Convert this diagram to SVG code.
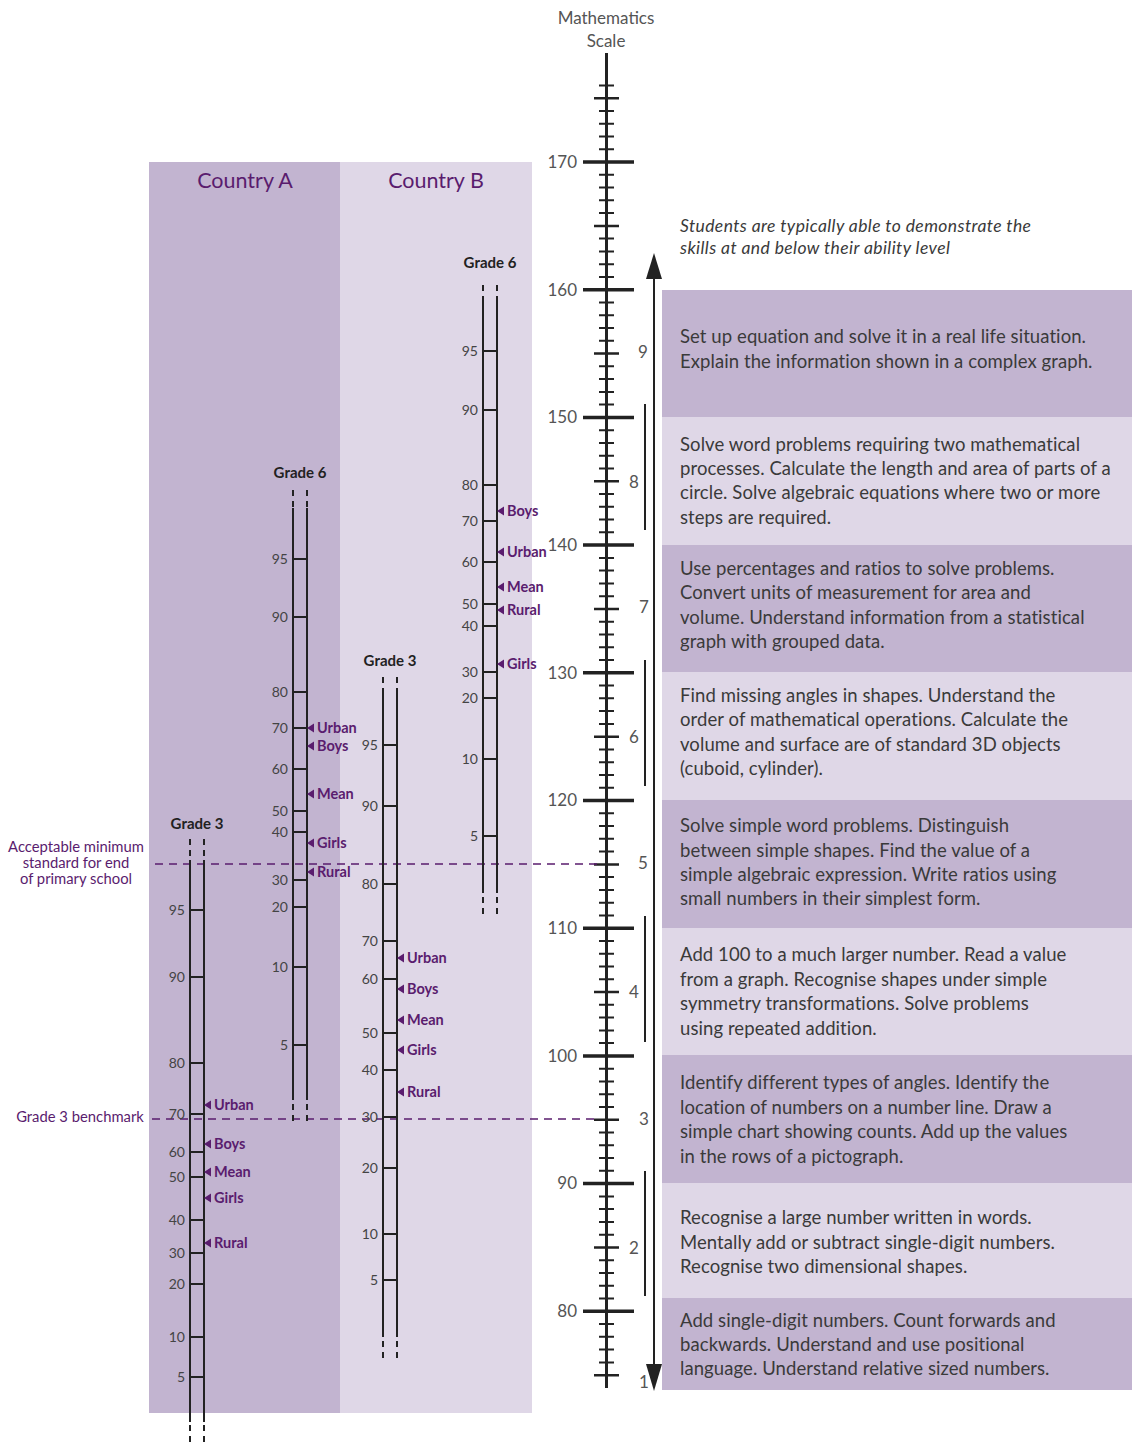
<svg xmlns="http://www.w3.org/2000/svg" width="1132" height="1445" viewBox="0 0 1132 1445">
<style>
.dark{fill:#c2b4d0}
.light{fill:#dfd7e7}
.title{font-family:Lato,"Liberation Sans",sans-serif;font-size:21.5px;fill:#5a1c6e;text-anchor:middle}
.lvl{font-family:Lato,"Liberation Sans",sans-serif;font-size:18.5px;letter-spacing:0.08px;fill:#3a3a3a}
.ital{font-family:Lato,"Liberation Sans",sans-serif;font-size:17.5px;letter-spacing:0.4px;font-style:italic;fill:#3a3a3a}
.num{font-family:Lato,"Liberation Sans",sans-serif;font-size:17px;fill:#555;text-anchor:end}
.lnum{font-family:Lato,"Liberation Sans",sans-serif;font-size:17px;fill:#555;text-anchor:middle}
.tk{font-family:Lato,"Liberation Sans",sans-serif;font-size:14px;fill:#444;text-anchor:end}
.gl{font-family:Lato,"Liberation Sans",sans-serif;font-size:15px;font-weight:bold;fill:#222;text-anchor:middle}
.mk{font-family:Lato,"Liberation Sans",sans-serif;font-size:14.5px;font-weight:bold;fill:#5a1c6e}
.side{font-family:Lato,"Liberation Sans",sans-serif;font-size:14.8px;fill:#5a1c6e;text-anchor:middle}
.bar{stroke:#222;stroke-width:2;fill:none}
.dash{stroke:#222;stroke-width:2;fill:none;stroke-dasharray:6 5}
.tri{fill:#5a1c6e}
.bench{stroke:#5a1c6e;stroke-width:1.6;stroke-dasharray:8 6;fill:none}
.ax{stroke:#222;fill:none}
</style>

<g id="countryA">
<rect class="dark" x="149" y="162" width="191" height="1251"/>
<text class="title" x="245" y="188">Country A</text>
</g>
<g id="countryB">
<rect class="light" x="340" y="162" width="192" height="1251"/>
<text class="title" x="436" y="188">Country B</text>
</g>

<g id="levels">
<rect class="dark" x="662" y="290" width="470" height="127"/>
<rect class="light" x="662" y="417" width="470" height="128"/>
<rect class="dark" x="662" y="545" width="470" height="127"/>
<rect class="light" x="662" y="672" width="470" height="128"/>
<rect class="dark" x="662" y="800" width="470" height="128"/>
<rect class="light" x="662" y="928" width="470" height="127"/>
<rect class="dark" x="662" y="1055" width="470" height="128"/>
<rect class="light" x="662" y="1183" width="470" height="115"/>
<rect class="dark" x="662" y="1298" width="470" height="92"/>
<g class="lvl">
<text x="680" y="343">Set up equation and solve it in a real life situation.</text>
<text x="680" y="368">Explain the information shown in a complex graph.</text>
<text x="680" y="451">Solve word problems requiring two mathematical</text>
<text x="680" y="475">processes. Calculate the length and area of parts of a</text>
<text x="680" y="499">circle. Solve algebraic equations where two or more</text>
<text x="680" y="524">steps are required.</text>
<text x="680" y="575">Use percentages and ratios to solve problems.</text>
<text x="680" y="599">Convert units of measurement for area and</text>
<text x="680" y="624">volume. Understand information from a statistical</text>
<text x="680" y="648">graph with grouped data.</text>
<text x="680" y="702">Find missing angles in shapes. Understand the</text>
<text x="680" y="726">order of mathematical operations. Calculate the</text>
<text x="680" y="751">volume and surface are of standard 3D objects</text>
<text x="680" y="775">(cuboid, cylinder).</text>
<text x="680" y="832">Solve simple word problems. Distinguish</text>
<text x="680" y="857">between simple shapes. Find the value of a</text>
<text x="680" y="881">simple algebraic expression. Write ratios using</text>
<text x="680" y="905">small numbers in their simplest form.</text>
<text x="680" y="961">Add 100 to a much larger number. Read a value</text>
<text x="680" y="986">from a graph. Recognise shapes under simple</text>
<text x="680" y="1010">symmetry transformations. Solve problems</text>
<text x="680" y="1035">using repeated addition.</text>
<text x="680" y="1089">Identify different types of angles. Identify the</text>
<text x="680" y="1114">location of numbers on a number line. Draw a</text>
<text x="680" y="1138">simple chart showing counts. Add up the values</text>
<text x="680" y="1163">in the rows of a pictograph.</text>
<text x="680" y="1224">Recognise a large number written in words.</text>
<text x="680" y="1249">Mentally add or subtract single-digit numbers.</text>
<text x="680" y="1273">Recognise two dimensional shapes.</text>
<text x="680" y="1327">Add single-digit numbers. Count forwards and</text>
<text x="680" y="1351">backwards. Understand and use positional</text>
<text x="680" y="1375">language. Understand relative sized numbers.</text>
</g>
<text x="680" y="232" class="ital">Students are typically able to demonstrate the</text>
<text x="680" y="254" class="ital">skills at and below their ability level</text>
<g class="lnum">
<text x="643" y="358">9</text>
<text x="634" y="488">8</text>
<text x="644" y="613">7</text>
<text x="634" y="743">6</text>
<text x="643" y="869">5</text>
<text x="634" y="998">4</text>
<text x="644" y="1125">3</text>
<text x="634" y="1254">2</text>
<text x="644" y="1388">1</text>
</g>
</g>

<g id="scale">
<text class="lnum" x="606" y="24">Mathematics</text>
<text class="lnum" x="606" y="47">Scale</text>
<line class="ax" x1="606.5" y1="53" x2="606.5" y2="1388" stroke-width="3"/>
<path class="ax" stroke-width="2" d="M599 85.4h15M599 110.9h15M599 123.7h15M599 136.5h15M599 149.2h15M599 174.8h15M599 187.5h15M599 200.3h15M599 213.1h15M599 238.6h15M599 251.4h15M599 264.2h15M599 276.9h15M599 302.5h15M599 315.2h15M599 328h15M599 340.8h15M599 366.3h15M599 379.1h15M599 391.9h15M599 404.6h15M599 430.2h15M599 442.9h15M599 455.7h15M599 468.5h15M599 494h15M599 506.8h15M599 519.6h15M599 532.3h15M599 557.9h15M599 570.6h15M599 583.4h15M599 596.2h15M599 621.7h15M599 634.5h15M599 647.3h15M599 660h15M599 685.6h15M599 698.3h15M599 711.1h15M599 723.9h15M599 749.4h15M599 762.2h15M599 775h15M599 787.7h15M599 813.3h15M599 826h15M599 838.8h15M599 851.6h15M599 877.1h15M599 889.9h15M599 902.7h15M599 915.4h15M599 941h15M599 953.7h15M599 966.5h15M599 979.3h15M599 1004.8h15M599 1017.6h15M599 1030.4h15M599 1043.1h15M599 1068.7h15M599 1081.4h15M599 1094.2h15M599 1107h15M599 1132.5h15M599 1145.3h15M599 1158.1h15M599 1170.8h15M599 1196.4h15M599 1209.1h15M599 1221.9h15M599 1234.7h15M599 1260.2h15M599 1273h15M599 1285.8h15M599 1298.5h15M599 1324.1h15M599 1336.8h15M599 1349.6h15M599 1362.4h15"/>
<path class="ax" stroke-width="2.5" d="M594 98.2h25M594 225.9h25M594 353.6h25M594 481.3h25M594 609h25M594 736.7h25M594 864.4h25M594 992.1h25M594 1119.8h25M594 1247.5h25M594 1375.2h25"/>
<path class="ax" stroke-width="3.5" d="M583 162h51M583 289.7h51M583 417.4h51M583 545.1h51M583 672.8h51M583 800.5h51M583 928.2h51M583 1055.9h51M583 1183.6h51M583 1311.3h51"/>
<g class="num">
<text x="577" y="168">170</text>
<text x="577" y="296">160</text>
<text x="577" y="423">150</text>
<text x="577" y="551">140</text>
<text x="577" y="679">130</text>
<text x="577" y="806">120</text>
<text x="577" y="934">110</text>
<text x="577" y="1062">100</text>
<text x="577" y="1189">90</text>
<text x="577" y="1317">80</text>
</g>
</g>

<g id="connectors">
<line class="ax" stroke-width="2" x1="654" y1="275" x2="654" y2="1368"/>
<polygon fill="#222" points="654,253 646,279 662,279"/>
<polygon fill="#222" points="654,1391 646,1364 662,1364"/>
<line class="ax" stroke-width="2" x1="645" y1="404" x2="645" y2="530"/>
<line class="ax" stroke-width="2" x1="645" y1="660" x2="645" y2="786"/>
<line class="ax" stroke-width="2" x1="645" y1="916" x2="645" y2="1042"/>
<line class="ax" stroke-width="2" x1="645" y1="1171" x2="645" y2="1296"/>
<line class="bench" x1="155" y1="864" x2="600" y2="864"/>
<line class="bench" x1="152" y1="1119" x2="600" y2="1119"/>
</g>

<g id="benchmarks">
<text class="side" x="76" y="852">Acceptable minimum</text>
<text class="side" x="76" y="868">standard for end</text>
<text class="side" x="76" y="884">of primary school</text>
<text class="side" x="80" y="1122">Grade 3 benchmark</text>
</g>

<g id="A-grade3">
<text class="gl" x="197" y="829">Grade 3</text>
<path class="dash" d="M190 839v22M204 839v22"/>
<path class="bar" d="M190 860V1422M204 860V1422"/>
<path class="dash" d="M190 1425v20M204 1425v20"/>
<path class="bar" d="M190 910h14M190 977h14M190 1063h14M190 1114h14M190 1152h14M190 1177h14M190 1220h14M190 1253h14M190 1284h14M190 1337h14M190 1377h14"/>
<g class="tk"><text x="185" y="915">95</text><text x="185" y="982">90</text><text x="185" y="1068">80</text><text x="185" y="1119">70</text><text x="185" y="1157">60</text><text x="185" y="1182">50</text><text x="185" y="1225">40</text><text x="185" y="1258">30</text><text x="185" y="1289">20</text><text x="185" y="1342">10</text><text x="185" y="1382">5</text></g>
<path class="tri" d="M204 1105l7-4.5v9zM204 1144l7-4.5v9zM204 1172l7-4.5v9zM204 1198l7-4.5v9zM204 1243l7-4.5v9z"/>
<g class="mk"><text x="214" y="1110">Urban</text><text x="214" y="1149">Boys</text><text x="214" y="1177">Mean</text><text x="214" y="1203">Girls</text><text x="214" y="1248">Rural</text></g>
</g>

<g id="A-grade6">
<text class="gl" x="300" y="478">Grade 6</text>
<path class="dash" d="M293 490v20M307 490v20"/>
<path class="bar" d="M293 508V1100M307 508V1100"/>
<path class="dash" d="M293 1104v20M307 1104v20"/>
<path class="bar" d="M293 559h14M293 617h14M293 692h14M293 728h14M293 769h14M293 811h14M293 832h14M293 880h14M293 907h14M293 967h14M293 1045h14"/>
<g class="tk"><text x="288" y="564">95</text><text x="288" y="622">90</text><text x="288" y="697">80</text><text x="288" y="733">70</text><text x="288" y="774">60</text><text x="288" y="816">50</text><text x="288" y="837">40</text><text x="288" y="885">30</text><text x="288" y="912">20</text><text x="288" y="972">10</text><text x="288" y="1050">5</text></g>
<path class="tri" d="M307 728l7-4.5v9zM307 746l7-4.5v9zM307 794l7-4.5v9zM307 843l7-4.5v9zM307 872l7-4.5v9z"/>
<g class="mk"><text x="317" y="733">Urban</text><text x="317" y="751">Boys</text><text x="317" y="799">Mean</text><text x="317" y="848">Girls</text><text x="317" y="877">Rural</text></g>
</g>

<g id="B-grade3">
<text class="gl" x="390" y="666">Grade 3</text>
<path class="dash" d="M383 677v20M397 677v20"/>
<path class="bar" d="M383 692V1337M397 692V1337"/>
<path class="dash" d="M383 1341v20M397 1341v20"/>
<path class="bar" d="M383 745h14M383 806h14M383 884h14M383 941h14M383 979h14M383 1033h14M383 1070h14M383 1117h14M383 1168h14M383 1234h14M383 1280h14"/>
<g class="tk"><text x="378" y="750">95</text><text x="378" y="811">90</text><text x="378" y="889">80</text><text x="378" y="946">70</text><text x="378" y="984">60</text><text x="378" y="1038">50</text><text x="378" y="1075">40</text><text x="378" y="1122">30</text><text x="378" y="1173">20</text><text x="378" y="1239">10</text><text x="378" y="1285">5</text></g>
<path class="tri" d="M397 958l7-4.5v9zM397 989l7-4.5v9zM397 1020l7-4.5v9zM397 1050l7-4.5v9zM397 1092l7-4.5v9z"/>
<g class="mk"><text x="407" y="963">Urban</text><text x="407" y="994">Boys</text><text x="407" y="1025">Mean</text><text x="407" y="1055">Girls</text><text x="407" y="1097">Rural</text></g>
</g>

<g id="B-grade6">
<text class="gl" x="490" y="268">Grade 6</text>
<path class="dash" d="M483 285v20M497 285v20"/>
<path class="bar" d="M483 300V893M497 300V893"/>
<path class="dash" d="M483 897v20M497 897v20"/>
<path class="bar" d="M483 351h14M483 410h14M483 485h14M483 521h14M483 562h14M483 604h14M483 626h14M483 672h14M483 698h14M483 759h14M483 836h14"/>
<g class="tk"><text x="478" y="356">95</text><text x="478" y="415">90</text><text x="478" y="490">80</text><text x="478" y="526">70</text><text x="478" y="567">60</text><text x="478" y="609">50</text><text x="478" y="631">40</text><text x="478" y="677">30</text><text x="478" y="703">20</text><text x="478" y="764">10</text><text x="478" y="841">5</text></g>
<path class="tri" d="M497 511l7-4.5v9zM497 552l7-4.5v9zM497 587l7-4.5v9zM497 610l7-4.5v9zM497 664l7-4.5v9z"/>
<g class="mk"><text x="507" y="516">Boys</text><text x="507" y="557">Urban</text><text x="507" y="592">Mean</text><text x="507" y="615">Rural</text><text x="507" y="669">Girls</text></g>
</g>
</svg>
